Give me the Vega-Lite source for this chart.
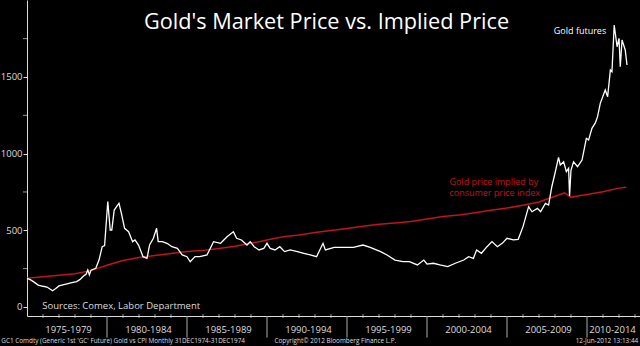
{
  "$schema": "https://vega.github.io/schema/vega-lite/v6.json",
  "autosize": "none",
  "width": 613,
  "height": 316,
  "padding": {"left": 27, "top": 0, "right": 0, "bottom": 30},
  "background": "black",
  "config": {"view": {"stroke": null}, "font": "Open Sans"},
  "title": {"text": "Gold's Market Price vs. Implied Price", "offset": -34, "dx": -7, "fontSize": 21.7, "fontWeight": "normal", "color": "white"},
  "datasets": {
    "gold": [
      {"t":1975.0,"v":187},{"t":1975.2,"v":178},{"t":1975.4,"v":165},{"t":1975.7,"v":143},{"t":1976.0,"v":135},{"t":1976.25,"v":130},{"t":1976.6,"v":106},{"t":1976.8,"v":120},{"t":1977.0,"v":137},{"t":1977.3,"v":145},{"t":1977.5,"v":150},{"t":1977.8,"v":158},{"t":1978.1,"v":165},{"t":1978.3,"v":178},{"t":1978.5,"v":198},{"t":1978.7,"v":215},{"t":1978.8,"v":241},{"t":1978.9,"v":209},{"t":1979.0,"v":240},{"t":1979.3,"v":252},{"t":1979.5,"v":306},{"t":1979.7,"v":393},{"t":1979.85,"v":400},{"t":1980.05,"v":687},{"t":1980.2,"v":502},{"t":1980.3,"v":502},{"t":1980.45,"v":632},{"t":1980.6,"v":654},{"t":1980.75,"v":676},{"t":1980.9,"v":611},{"t":1981.1,"v":513},{"t":1981.35,"v":491},{"t":1981.6,"v":426},{"t":1981.75,"v":437},{"t":1981.97,"v":404},{"t":1982.25,"v":328},{"t":1982.5,"v":317},{"t":1982.66,"v":404},{"t":1982.9,"v":448},{"t":1983.1,"v":513},{"t":1983.2,"v":426},{"t":1983.45,"v":426},{"t":1983.75,"v":415},{"t":1984.06,"v":393},{"t":1984.4,"v":382},{"t":1984.7,"v":339},{"t":1985.0,"v":328},{"t":1985.2,"v":295},{"t":1985.5,"v":328},{"t":1985.8,"v":328},{"t":1986.25,"v":339},{"t":1986.66,"v":426},{"t":1987.1,"v":415},{"t":1987.5,"v":458},{"t":1987.9,"v":491},{"t":1988.1,"v":448},{"t":1988.4,"v":437},{"t":1988.75,"v":404},{"t":1988.95,"v":426},{"t":1989.2,"v":393},{"t":1989.5,"v":372},{"t":1989.8,"v":382},{"t":1990.0,"v":415},{"t":1990.2,"v":382},{"t":1990.5,"v":372},{"t":1990.8,"v":393},{"t":1991.1,"v":361},{"t":1991.45,"v":372},{"t":1991.9,"v":361},{"t":1992.3,"v":350},{"t":1992.7,"v":339},{"t":1993.1,"v":328},{"t":1993.5,"v":415},{"t":1993.65,"v":372},{"t":1994.2,"v":389},{"t":1994.8,"v":389},{"t":1995.4,"v":389},{"t":1996.0,"v":404},{"t":1996.45,"v":389},{"t":1997.1,"v":361},{"t":1997.5,"v":339},{"t":1998.0,"v":306},{"t":1998.5,"v":295},{"t":1998.9,"v":295},{"t":1999.4,"v":274},{"t":1999.8,"v":306},{"t":2000.0,"v":280},{"t":2000.4,"v":285},{"t":2000.8,"v":274},{"t":2001.3,"v":263},{"t":2001.77,"v":285},{"t":2002.3,"v":306},{"t":2002.6,"v":328},{"t":2002.9,"v":317},{"t":2003.1,"v":372},{"t":2003.4,"v":350},{"t":2003.75,"v":393},{"t":2004.06,"v":426},{"t":2004.4,"v":393},{"t":2004.7,"v":415},{"t":2005.0,"v":448},{"t":2005.4,"v":437},{"t":2005.7,"v":441},{"t":2006.0,"v":524},{"t":2006.35,"v":654},{"t":2006.56,"v":621},{"t":2006.9,"v":643},{"t":2007.1,"v":621},{"t":2007.4,"v":676},{"t":2007.6,"v":665},{"t":2007.8,"v":784},{"t":2008.0,"v":872},{"t":2008.22,"v":976},{"t":2008.33,"v":926},{"t":2008.54,"v":947},{"t":2008.71,"v":882},{"t":2008.85,"v":904},{"t":2008.91,"v":724},{"t":2009.0,"v":893},{"t":2009.16,"v":947},{"t":2009.41,"v":915},{"t":2009.69,"v":958},{"t":2009.96,"v":1100},{"t":2010.1,"v":1089},{"t":2010.31,"v":1165},{"t":2010.52,"v":1200},{"t":2010.66,"v":1241},{"t":2010.83,"v":1328},{"t":2011.14,"v":1415},{"t":2011.29,"v":1371},{"t":2011.46,"v":1545},{"t":2011.56,"v":1534},{"t":2011.7,"v":1839},{"t":2011.88,"v":1697},{"t":2012.0,"v":1752},{"t":2012.08,"v":1567},{"t":2012.19,"v":1741},{"t":2012.39,"v":1676},{"t":2012.5,"v":1578}
    ],
    "cpi": [
      {"t":1975,"v":187},{"t":1976,"v":197},{"t":1977,"v":206},{"t":1978,"v":217},{"t":1979,"v":237},{"t":1980,"v":272},{"t":1981,"v":303},{"t":1982,"v":322},{"t":1983,"v":335},{"t":1984,"v":349},{"t":1985,"v":361},{"t":1986,"v":369},{"t":1987,"v":381},{"t":1988,"v":396},{"t":1989,"v":415},{"t":1990,"v":437},{"t":1991,"v":458},{"t":1992,"v":470},{"t":1993,"v":486},{"t":1994,"v":499},{"t":1995,"v":512},{"t":1996,"v":526},{"t":1997,"v":539},{"t":1998,"v":548},{"t":1999,"v":557},{"t":2000,"v":574},{"t":2001,"v":590},{"t":2002,"v":600},{"t":2003,"v":615},{"t":2004,"v":630},{"t":2005,"v":645},{"t":2006,"v":664},{"t":2007,"v":685},{"t":2008,"v":722},{"t":2008.6,"v":745},{"t":2009.0,"v":715},{"t":2009.5,"v":725},{"t":2010,"v":733},{"t":2011,"v":752},{"t":2012,"v":775},{"t":2012.45,"v":780}
    ],
    "periods": [{"t":1980},{"t":1985},{"t":1990},{"t":1995},{"t":2000},{"t":2005},{"t":2010}],
    "years": [{"t":1976},{"t":1977},{"t":1978},{"t":1979},{"t":1981},{"t":1982},{"t":1983},{"t":1984},{"t":1986},{"t":1987},{"t":1988},{"t":1989},{"t":1991},{"t":1992},{"t":1993},{"t":1994},{"t":1996},{"t":1997},{"t":1998},{"t":1999},{"t":2001},{"t":2002},{"t":2003},{"t":2004},{"t":2006},{"t":2007},{"t":2008},{"t":2009},{"t":2011},{"t":2012},{"t":2013}],
    "minorY": [{"v":250},{"v":750},{"v":1250},{"v":1750}],
    "one": [{}]
  },
  "layer": [
    {
      "data": {"name": "cpi"},
      "mark": {"type": "line", "color": "#c0141e", "strokeWidth": 1.5},
      "encoding": {
        "x": {"field": "t", "type": "quantitative", "scale": {"domain": [1975, 2013.3125], "nice": false, "zero": false},
          "axis": {"values": [1975,1980,1985,1990,1995,2000,2005,2009],
            "labelExpr": "datum.value == 2009 ? '2010-2014' : datum.value + '-' + (datum.value + 4)",
            "title": null, "grid": false, "domainColor": "#dddddd", "tickColor": "#dddddd", "tickSize": 0, "labelOffset": 41,
            "labelFlush": false, "labelOverlap": false, "labelBound": false, "labelPadding": 8, "labelColor": "#dddddd", "labelFontSize": 9.5}},
        "y": {"field": "v", "type": "quantitative", "scale": {"domain": [-59, 2002], "nice": false, "zero": false},
          "axis": {"values": [0,500,1000,1500], "format": "d", "title": null, "grid": false, "domainColor": "#dddddd", "tickColor": "#dddddd", "tickSize": 4, "labelPadding": 1, "labelOverlap": false, "labelColor": "#dddddd", "labelFontSize": 9.5}}
      }
    },
    {
      "data": {"name": "gold"},
      "mark": {"type": "line", "color": "white", "strokeWidth": 1.3},
      "encoding": {"x": {"field": "t", "type": "quantitative"}, "y": {"field": "v", "type": "quantitative"}}
    },
    {
      "data": {"name": "periods"},
      "mark": {"type": "rule", "color": "#aaaaaa", "strokeWidth": 1},
      "encoding": {"x": {"field": "t", "type": "quantitative"}, "y": {"datum": -59, "type": "quantitative"}, "y2": {"datum": -200}}
    },
    {
      "data": {"name": "years"},
      "mark": {"type": "tick", "orient": "vertical", "color": "#dddddd", "size": 4, "thickness": 1},
      "encoding": {"x": {"field": "t", "type": "quantitative"}, "y": {"datum": -59, "type": "quantitative"}}
    },
    {
      "data": {"name": "minorY"},
      "mark": {"type": "tick", "orient": "horizontal", "color": "#dddddd", "size": 4, "thickness": 1},
      "encoding": {"x": {"datum": 1974.875, "type": "quantitative"}, "y": {"field": "v", "type": "quantitative"}}
    },
    {
      "data": {"name": "one"},
      "mark": {"type": "text", "text": "Gold futures", "color": "white", "fontSize": 9, "align": "right", "baseline": "middle"},
      "encoding": {"x": {"datum": 2011.2, "type": "quantitative"}, "y": {"datum": 1800, "type": "quantitative"}}
    },
    {
      "data": {"name": "one"},
      "mark": {"type": "text", "text": ["Gold price implied by", "consumer price index"], "color": "#c0141e", "fontSize": 9, "lineHeight": 11, "align": "left", "baseline": "middle"},
      "encoding": {"x": {"datum": 2001.4, "type": "quantitative"}, "y": {"datum": 812, "type": "quantitative"}}
    },
    {
      "data": {"name": "one"},
      "mark": {"type": "text", "text": "Sources: Comex, Labor Department", "color": "#dddddd", "fontSize": 9.5, "align": "left", "baseline": "middle"},
      "encoding": {"x": {"datum": 1975.96, "type": "quantitative"}, "y": {"datum": 8, "type": "quantitative"}}
    },
    {
      "data": {"name": "one"},
      "mark": {"type": "text", "text": "GC1 Comdty (Generic 1st 'GC' Future) Gold vs CPI  Monthly 31DEC1974-31DEC1974", "color": "#dddddd", "fontSize": 6.4, "align": "left", "baseline": "middle"},
      "encoding": {"x": {"datum": 1973.39, "type": "quantitative"}, "y": {"datum": -222, "type": "quantitative"}}
    },
    {
      "data": {"name": "one"},
      "mark": {"type": "text", "text": "Copyright© 2012 Bloomberg Finance L.P.", "color": "#dddddd", "fontSize": 6.4, "align": "center", "baseline": "middle"},
      "encoding": {"x": {"datum": 1994.27, "type": "quantitative"}, "y": {"datum": -222, "type": "quantitative"}}
    },
    {
      "data": {"name": "one"},
      "mark": {"type": "text", "text": "12-Jun-2012 13:13:44", "color": "#dddddd", "fontSize": 6.4, "align": "right", "baseline": "middle"},
      "encoding": {"x": {"datum": 2013.2, "type": "quantitative"}, "y": {"datum": -222, "type": "quantitative"}}
    }
  ]
}
